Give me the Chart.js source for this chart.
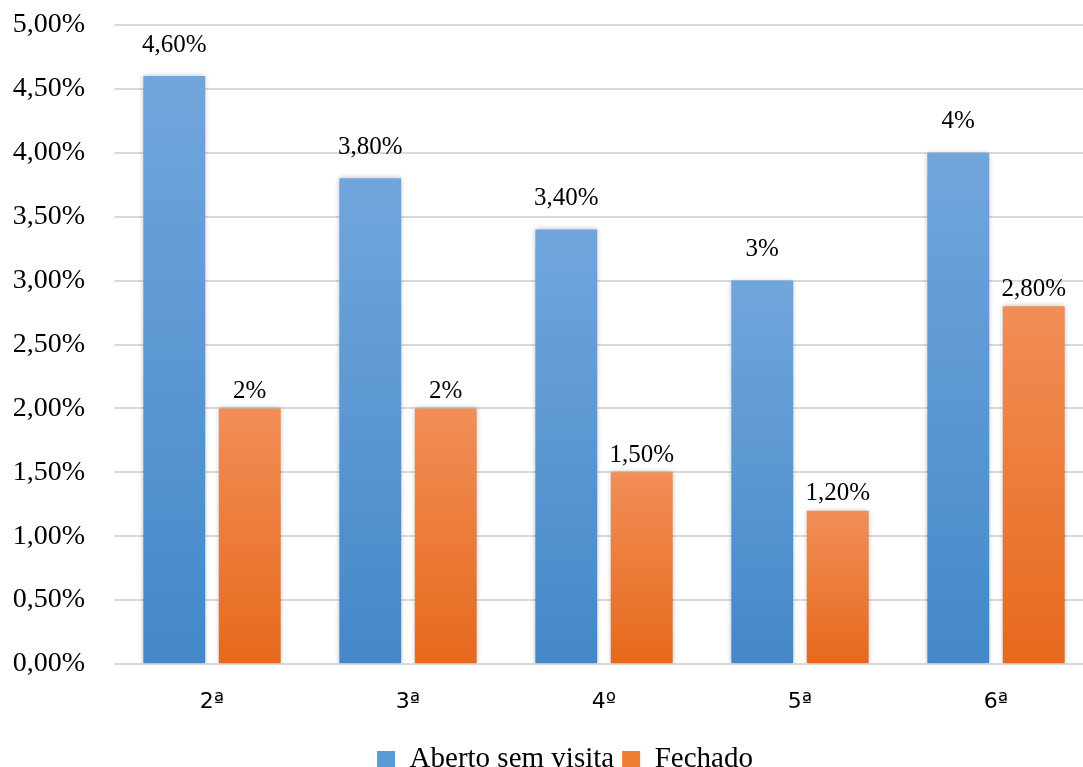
<!DOCTYPE html>
<html>
<head>
<meta charset="utf-8">
<script src="https://cdn.jsdelivr.net/npm/chart.js@4"></script>
<style>
html,body{margin:0;padding:0;background:#fff;overflow:hidden;}
#wrap{width:1083px;height:767px;overflow:hidden;}
</style>
</head>
<body>
<div id="wrap"><canvas id="chart" width="1100" height="767"></canvas></div>
<script>

// dados
var categories = ['2ª','3ª','4º','5ª','6ª'];
var abertoValues = [4.6, 3.8, 3.4, 3.0, 4.0];
var fechadoValues = [2.0, 2.0, 1.5, 1.2, 2.8];
var abertoLabels = ['4,60%','3,80%','3,40%','3%','4%'];
var fechadoLabels = ['2%','2%','1,50%','1,20%','2,80%'];
var seriesNames = ['Aberto sem visita','Fechado'];

var serif = '"Liberation Serif", "Times New Roman", serif';

function barGradient(top, bottom){
  return function(c){
    var chart = c.chart;
    if(!chart.chartArea || c.type !== 'data'){ return bottom; }
    var y = chart.scales.y;
    var y0 = y.getPixelForValue(c.raw);
    var y1 = y.getPixelForValue(0);
    var g = chart.ctx.createLinearGradient(0, y0, 0, y1);
    g.addColorStop(0, top);
    g.addColorStop(1, bottom);
    return g;
  };
}

/* sombra das barras */
var shadowPlugin = {
  id:'shadow',
  beforeDatasetsDraw:function(chart){
    var ctx = chart.ctx;
    ctx.save();
    ctx.shadowColor = 'rgba(0,0,0,0.28)';
    ctx.shadowBlur = 5;
  },
  afterDatasetsDraw:function(chart){
    chart.ctx.restore();
  }
};

/* legenda deslocada como no original */
var legendShift = {
  id:'legendShift',
  afterLayout:function(chart){
    var lg = chart.legend;
    lg.left += 18;
    lg.right += 18;
    lg.top += 17;
    lg.bottom += 17;
  }
};

/* rótulos de dados */
var labelPlugin = {
  id:'barLabels',
  afterDraw:function(chart){
    var ctx = chart.ctx;
    ctx.save();
    ctx.font = '25px ' + serif;
    ctx.fillStyle = '#000';
    ctx.textAlign = 'center';
    ctx.textBaseline = 'middle';
    chart.data.datasets.forEach(function(ds, i){
      var meta = chart.getDatasetMeta(i);
      meta.data.forEach(function(bar, j){
        ctx.fillText(ds.valueLabels[j], bar.x, bar.y - ds.labelOffset);
      });
    });
    ctx.restore();
  }
};

new Chart(document.getElementById('chart'),{
  type:'bar',
  data:{
    labels:categories,
    datasets:[{
      label:seriesNames[0],
      data:abertoValues,
      valueLabels:abertoLabels,
      labelOffset:31,
      backgroundColor:barGradient('#71a6dc','#4488c8'),
      categoryPercentage:0.77,
      barPercentage:0.82
    },{
      label:seriesNames[1],
      data:fechadoValues,
      valueLabels:fechadoLabels,
      labelOffset:17,
      backgroundColor:barGradient('#f28e56','#e6691c'),
      categoryPercentage:0.77,
      barPercentage:0.82
    }]
  },
  options:{
    responsive:false,
    animation:false,
    layout:{padding:{left:0,right:6,top:25,bottom:0}},
    plugins:{
      tooltip:{enabled:false},
      legend:{
        position:'bottom',
        labels:{
          boxWidth:18,
          boxHeight:17,
          padding:8,
          color:'#000',
          font:{family:serif,size:29},
          generateLabels:function(chart){
            return chart.data.datasets.map(function(ds, i){
              return {
                text:ds.label,
                fillStyle:i === 0 ? '#5b9bd5' : '#ed7d31',
                strokeStyle:'rgba(0,0,0,0)',
                lineWidth:0,
                datasetIndex:i
              };
            });
          }
        }
      }
    },
    scales:{
      x:{
        afterFit:function(scale){ scale.height = 56; },
        grid:{display:false},
        border:{display:false},
        ticks:{
          color:'#000',
          padding:17,
          font:{family:'"DejaVu Sans", sans-serif',size:22}
        }
      },
      y:{
        min:0,
        max:5,
        afterFit:function(scale){
          scale.width = 114;
          scale.paddingTop = 0;
          scale.paddingBottom = 0;
        },
        grid:{color:'#d9d9d9',lineWidth:2,drawTicks:false},
        border:{display:false},
        ticks:{
          stepSize:0.5,
          padding:29,
          color:'#000',
          font:{family:serif,size:28},
          callback:function(v){ return v.toFixed(2).replace('.',',') + '%'; }
        }
      }
    }
  },
  plugins:[shadowPlugin,legendShift,labelPlugin]
});

</script>
</body>
</html>
